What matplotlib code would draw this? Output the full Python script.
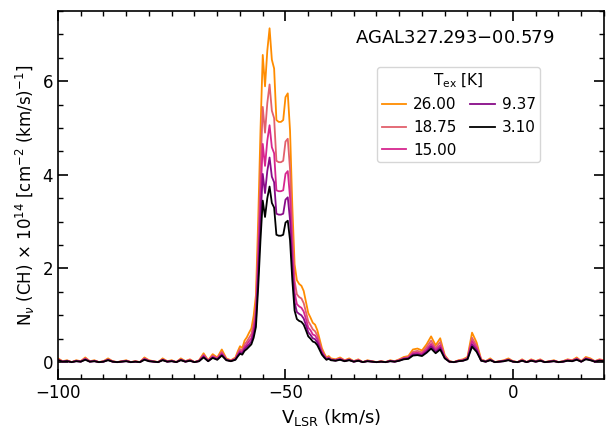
import numpy as np
import matplotlib
matplotlib.use('Agg')
import matplotlib.pyplot as plt
from matplotlib.ticker import MultipleLocator

# velocity channels (km/s): coarse in the baseline, finer across the main line
vel = np.concatenate([np.arange(-100, -60, 1.0),
                      np.arange(-60.5, -39.9, 0.5),
                      np.arange(-39, 20.1, 1.0)])

# N_v(CH) x 1e14 for each excitation temperature
n_26_00 = [0.08, 0.02, 0.04, 0.00, 0.04, 0.02, 0.10, 0.02, 0.04, 0.00, 0.02, 0.08, 0.02, 0.00, 0.02, 0.04, 0.00, 0.02, 0.00, 0.10,
           0.04, 0.02, 0.00, 0.08, 0.02, 0.04, 0.00, 0.08, 0.02, 0.06, 0.00, 0.04, 0.19, 0.04, 0.17, 0.10, 0.27, 0.08, 0.04, 0.10,
           0.23, 0.34, 0.30, 0.46, 0.53, 0.63, 0.72, 0.99, 1.43, 3.04, 4.94, 6.56, 5.89, 6.65, 7.13, 6.46, 6.27, 5.17, 5.13, 5.13,
           5.17, 5.66, 5.74, 4.94, 3.33, 2.09, 1.75, 1.67, 1.63, 1.52, 1.29, 1.05, 0.95, 0.84, 0.80, 0.68, 0.49, 0.30, 0.19, 0.10,
           0.13, 0.08,
           0.06, 0.10, 0.04, 0.08, 0.02, 0.06, 0.00, 0.04, 0.02, 0.00, 0.02, 0.00, 0.04, 0.02, 0.06, 0.11, 0.13, 0.27, 0.29, 0.25,
           0.38, 0.55, 0.36, 0.51, 0.15, 0.02, 0.00, 0.04, 0.06, 0.11, 0.63, 0.42, 0.06, 0.02, 0.08, 0.00, 0.02, 0.04, 0.08, 0.02,
           0.00, 0.06, 0.00, 0.06, 0.02, 0.06, 0.00, 0.02, 0.04, 0.00, 0.02, 0.06, 0.04, 0.10, 0.02, 0.11, 0.08, 0.02, 0.06, 0.04]
n_18_75 = [0.06, 0.02, 0.03, 0.00, 0.03, 0.02, 0.08, 0.02, 0.03, 0.00, 0.02, 0.06, 0.02, 0.00, 0.02, 0.03, 0.00, 0.02, 0.00, 0.08,
           0.03, 0.02, 0.00, 0.06, 0.02, 0.03, 0.00, 0.06, 0.02, 0.05, 0.00, 0.03, 0.16, 0.03, 0.14, 0.08, 0.22, 0.06, 0.03, 0.08,
           0.19, 0.28, 0.25, 0.38, 0.44, 0.52, 0.60, 0.82, 1.19, 2.53, 4.11, 5.45, 4.90, 5.53, 5.93, 5.37, 5.21, 4.30, 4.27, 4.27,
           4.30, 4.71, 4.77, 4.11, 2.77, 1.74, 1.45, 1.39, 1.36, 1.26, 1.07, 0.87, 0.79, 0.70, 0.66, 0.57, 0.41, 0.25, 0.16, 0.08,
           0.11, 0.06,
           0.05, 0.08, 0.03, 0.06, 0.02, 0.05, 0.00, 0.03, 0.02, 0.00, 0.02, 0.00, 0.03, 0.02, 0.05, 0.09, 0.11, 0.22, 0.24, 0.21,
           0.32, 0.46, 0.30, 0.43, 0.13, 0.02, 0.00, 0.03, 0.05, 0.09, 0.52, 0.35, 0.05, 0.02, 0.06, 0.00, 0.02, 0.03, 0.06, 0.02,
           0.00, 0.05, 0.00, 0.05, 0.02, 0.05, 0.00, 0.02, 0.03, 0.00, 0.02, 0.05, 0.03, 0.08, 0.02, 0.09, 0.06, 0.02, 0.05, 0.03]
n_15_00 = [0.05, 0.01, 0.03, 0.00, 0.03, 0.01, 0.07, 0.01, 0.03, 0.00, 0.01, 0.05, 0.01, 0.00, 0.01, 0.03, 0.00, 0.01, 0.00, 0.07,
           0.03, 0.01, 0.00, 0.05, 0.01, 0.03, 0.00, 0.05, 0.01, 0.04, 0.00, 0.03, 0.14, 0.03, 0.12, 0.07, 0.19, 0.05, 0.03, 0.07,
           0.16, 0.24, 0.22, 0.32, 0.38, 0.45, 0.51, 0.70, 1.01, 2.16, 3.51, 4.66, 4.19, 4.73, 5.06, 4.59, 4.46, 3.67, 3.65, 3.65,
           3.67, 4.02, 4.08, 3.51, 2.36, 1.49, 1.24, 1.19, 1.16, 1.08, 0.92, 0.74, 0.68, 0.59, 0.57, 0.49, 0.35, 0.22, 0.14, 0.07,
           0.09, 0.05,
           0.04, 0.07, 0.03, 0.05, 0.01, 0.04, 0.00, 0.03, 0.01, 0.00, 0.01, 0.00, 0.03, 0.01, 0.04, 0.08, 0.09, 0.19, 0.20, 0.18,
           0.27, 0.39, 0.26, 0.36, 0.11, 0.01, 0.00, 0.03, 0.04, 0.08, 0.45, 0.30, 0.04, 0.01, 0.05, 0.00, 0.01, 0.03, 0.05, 0.01,
           0.00, 0.04, 0.00, 0.04, 0.01, 0.04, 0.00, 0.01, 0.03, 0.00, 0.01, 0.04, 0.03, 0.07, 0.01, 0.08, 0.05, 0.01, 0.04, 0.03]
n_9_37 = [0.05, 0.01, 0.02, 0.00, 0.02, 0.01, 0.06, 0.01, 0.02, 0.00, 0.01, 0.05, 0.01, 0.00, 0.01, 0.02, 0.00, 0.01, 0.00, 0.06,
          0.02, 0.01, 0.00, 0.05, 0.01, 0.02, 0.00, 0.05, 0.01, 0.03, 0.00, 0.02, 0.12, 0.02, 0.10, 0.06, 0.16, 0.05, 0.02, 0.06,
          0.14, 0.21, 0.19, 0.28, 0.33, 0.38, 0.44, 0.61, 0.87, 1.86, 3.03, 4.02, 3.61, 4.08, 4.37, 3.96, 3.84, 3.17, 3.15, 3.15,
          3.17, 3.47, 3.52, 3.03, 2.04, 1.28, 1.07, 1.03, 1.00, 0.93, 0.79, 0.64, 0.58, 0.51, 0.49, 0.42, 0.30, 0.19, 0.12, 0.06,
          0.08, 0.05,
          0.03, 0.06, 0.02, 0.05, 0.01, 0.03, 0.00, 0.02, 0.01, 0.00, 0.01, 0.00, 0.02, 0.01, 0.03, 0.07, 0.08, 0.16, 0.17, 0.15,
          0.23, 0.34, 0.22, 0.31, 0.09, 0.01, 0.00, 0.02, 0.03, 0.07, 0.38, 0.26, 0.03, 0.01, 0.05, 0.00, 0.01, 0.02, 0.05, 0.01,
          0.00, 0.03, 0.00, 0.03, 0.01, 0.03, 0.00, 0.01, 0.02, 0.00, 0.01, 0.03, 0.02, 0.06, 0.01, 0.07, 0.05, 0.01, 0.03, 0.02]
n_3_10 = [0.04, 0.01, 0.02, 0.00, 0.02, 0.01, 0.05, 0.01, 0.02, 0.00, 0.01, 0.04, 0.01, 0.00, 0.01, 0.02, 0.00, 0.01, 0.00, 0.05,
          0.02, 0.01, 0.00, 0.04, 0.01, 0.02, 0.00, 0.04, 0.01, 0.03, 0.00, 0.02, 0.10, 0.02, 0.09, 0.05, 0.14, 0.04, 0.02, 0.05,
          0.12, 0.18, 0.16, 0.24, 0.28, 0.33, 0.38, 0.52, 0.75, 1.60, 2.60, 3.45, 3.10, 3.50, 3.75, 3.40, 3.30, 2.72, 2.70, 2.70,
          2.72, 2.98, 3.02, 2.60, 1.75, 1.10, 0.92, 0.88, 0.86, 0.80, 0.68, 0.55, 0.50, 0.44, 0.42, 0.36, 0.26, 0.16, 0.10, 0.05,
          0.07, 0.04,
          0.03, 0.05, 0.02, 0.04, 0.01, 0.03, 0.00, 0.02, 0.01, 0.00, 0.01, 0.00, 0.02, 0.01, 0.03, 0.06, 0.07, 0.14, 0.15, 0.13,
          0.20, 0.29, 0.19, 0.27, 0.08, 0.01, 0.00, 0.02, 0.03, 0.06, 0.33, 0.22, 0.03, 0.01, 0.04, 0.00, 0.01, 0.02, 0.04, 0.01,
          0.00, 0.03, 0.00, 0.03, 0.01, 0.03, 0.00, 0.01, 0.02, 0.00, 0.01, 0.03, 0.02, 0.05, 0.01, 0.06, 0.04, 0.01, 0.03, 0.02]

tex_labels = ['26.00', '18.75', '15.00', '9.37', '3.10']
spectra = [n_26_00, n_18_75, n_15_00, n_9_37, n_3_10]
colors = ['#ff8c00', '#e2606c', '#d6268f', '#880c88', 'black']

fig = plt.figure(figsize=(6.06, 4.32), dpi=100)
ax = fig.add_axes([0.0957, 0.1227, 0.901, 0.852])

for lab, spec, col in zip(tex_labels, spectra, colors):
    ax.plot(vel, spec, color=col, lw=1.3, label=lab)

ax.set_xlim(-100, 20)
ax.set_ylim(-0.36, 7.5)
ax.xaxis.set_major_locator(MultipleLocator(50))
ax.xaxis.set_minor_locator(MultipleLocator(5))
ax.yaxis.set_major_locator(MultipleLocator(2))
ax.yaxis.set_minor_locator(MultipleLocator(0.5))
ax.tick_params(which='both', direction='in', top=True, right=True, labelsize=12)
ax.tick_params(which='major', length=7, width=1.2)
ax.tick_params(which='minor', length=3.5, width=1)
for sp in ax.spines.values():
    sp.set_linewidth(1.2)

ax.set_xlabel(r'V$_{\rm LSR}$ (km/s)', fontsize=13)
ax.set_ylabel(r'N$_{\nu}$ (CH) $\times$ 10$^{14}$ [cm$^{-2}$ (km/s)$^{-1}$]', fontsize=12)

ax.text(0.727, 0.927, r'AGAL327.293$-$00.579', transform=ax.transAxes,
        ha='center', va='center', fontsize=13)

ax.legend(title=r'T$_{\rm ex}$ [K]', ncol=2, fontsize=11, title_fontsize=11,
          loc='upper right', bbox_to_anchor=(0.883, 0.848), borderaxespad=0,
          borderpad=0.3, columnspacing=0.9, handlelength=1.6,
          handletextpad=0.45, labelspacing=0.5)

fig.savefig('out.png', dpi=100)
